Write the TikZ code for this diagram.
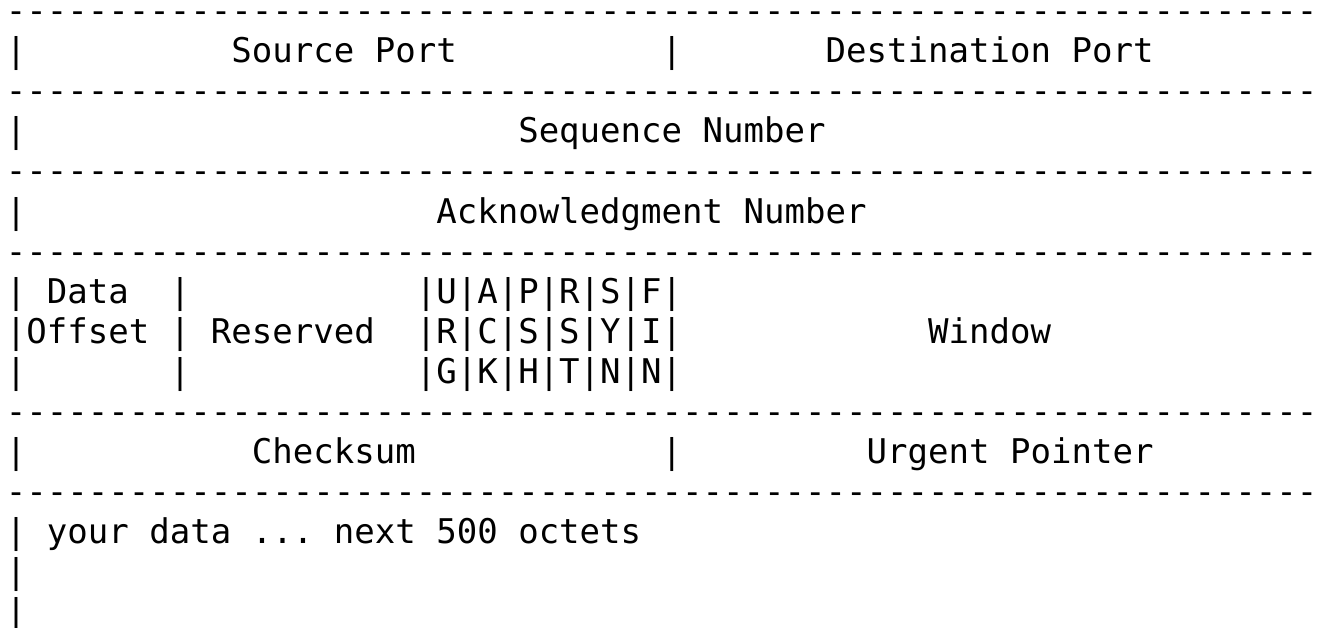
\documentclass[tikz,border=0pt]{standalone}
\usepackage{fontspec}
\setmonofont{DejaVu Sans Mono}
\newcommand\dashrow{----------------------------------------------------------------}
\tikzset{
  txt/.style={anchor=base west, inner sep=0pt, outer sep=0pt, font=\ttfamily\fontsize{34.04bp}{40bp}\selectfont, text=black},
}
% place text #3 at row #1, column #2
\newcommand\putat[3]{\node[txt] (r#1c#2) at ({5.95+20.492*#2},{-(23+40*#1)}) {#3};}
\begin{document}
\begin{tikzpicture}[x=1bp,y=1bp]
\fill[white] (0,0) rectangle (1319,-628);
\useasboundingbox (0,0) rectangle (1319,-628);
% separator rows
\putat{0}{0}{\dashrow}
\putat{2}{0}{\dashrow}
\putat{4}{0}{\dashrow}
\putat{6}{0}{\dashrow}
\putat{10}{0}{\dashrow}
\putat{12}{0}{\dashrow}
% row 1
\putat{1}{0}{|}
\putat{1}{11}{Source Port}
\putat{1}{32}{|}
\putat{1}{40}{Destination Port}
% row 3
\putat{3}{0}{|}
\putat{3}{25}{Sequence Number}
% row 5
\putat{5}{0}{|}
\putat{5}{21}{Acknowledgment Number}
% rows 7-9
\putat{7}{0}{|}
\putat{7}{2}{Data}
\putat{7}{8}{|}
\putat{7}{20}{|U|A|P|R|S|F|}
\putat{8}{0}{|Offset}
\putat{8}{8}{|}
\putat{8}{10}{Reserved}
\putat{8}{20}{|R|C|S|S|Y|I|}
\putat{8}{45}{Window}
\putat{9}{0}{|}
\putat{9}{8}{|}
\putat{9}{20}{|G|K|H|T|N|N|}
% row 11
\putat{11}{0}{|}
\putat{11}{12}{Checksum}
\putat{11}{32}{|}
\putat{11}{42}{Urgent Pointer}
% rows 13-15
\putat{13}{0}{|}
\putat{13}{2}{your data ... next 500 octets}
\putat{14}{0}{|}
\putat{15}{0}{|}
\end{tikzpicture}
\end{document}
